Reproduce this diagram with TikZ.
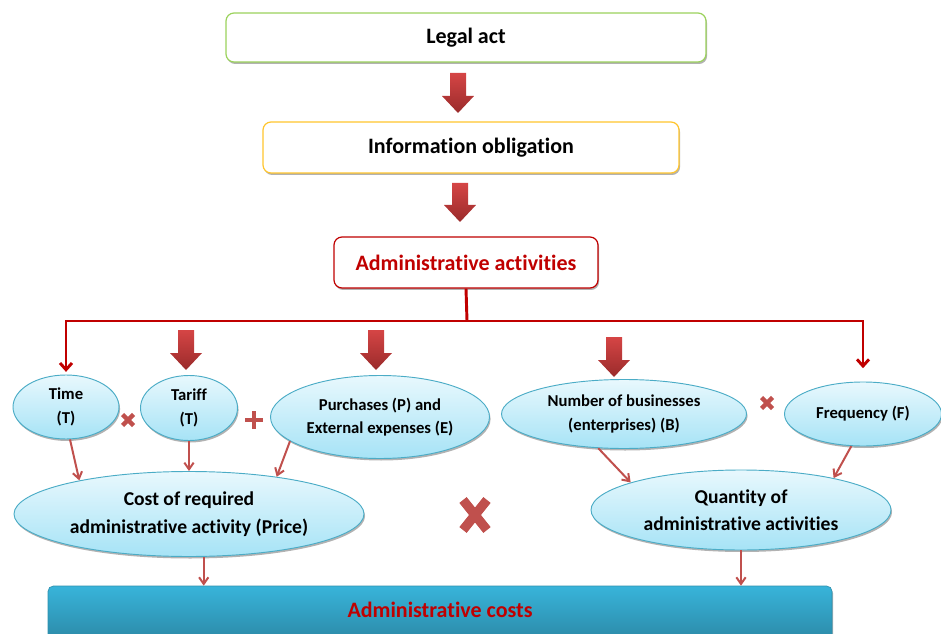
\documentclass[tikz,border=0pt]{standalone}
\usepackage{fontspec}
\setmainfont{Carlito}[Ligatures={NoCommon,NoRare,NoDiscretionary}]
\usetikzlibrary{arrows.meta,shadows,shapes.geometric}
\definecolor{legalgreen}{HTML}{9BD25C}
\definecolor{infogold}{HTML}{FFC52E}
\definecolor{darkred}{HTML}{C00000}
\definecolor{brickred}{HTML}{C0504D}
\definecolor{ellborder}{HTML}{4BACC6}
\definecolor{elltop}{HTML}{E8F8FD}
\definecolor{ellbot}{HTML}{A6E3F6}
\definecolor{arrtop}{HTML}{D54545}
\definecolor{arrbot}{HTML}{9A2B2B}
\definecolor{costtop}{HTML}{38B4DA}
\definecolor{costbot}{HTML}{2C8AA8}
\newcommand\bigdownarrow[3]{%
  \shade[top color=arrtop,bottom color=arrbot]
    (#1-8,#2) -- (#1+8,#2) -- (#1+8,#3-17) -- (#1+16,#3-17) -- (#1,#3)
    -- (#1-16,#3-17) -- (#1-8,#3-17) -- cycle;}
\newcommand\timesmark[5]{% x y halfwidth halfheight linewidth
  \draw[brickred,line width=#5] (#1-#3,#2-#4) -- (#1+#3,#2+#4) (#1-#3,#2+#4) -- (#1+#3,#2-#4);}
\begin{document}
\begin{tikzpicture}[x=0.75pt,y=-0.75pt,
  softshadow/.style={drop shadow={shadow xshift=0.8pt,shadow yshift=-1.5pt,fill=black,opacity=0.3}},
  topbox/.style={draw,rounded corners=6pt,fill=white,line width=0.9pt,softshadow,
    font=\fontsize{16.5}{19}\selectfont\bfseries},
  oval/.style={ellipse,draw=ellborder,line width=0.7pt,top color=elltop,bottom color=ellbot,
    inner sep=0pt,align=center,softshadow},
  smalltext/.style={font=\fontsize{12.5}{17.5}\selectfont\bfseries},
  bigtext/.style={font=\fontsize{14.7}{20.5}\selectfont\bfseries},
  redline/.style={draw=darkred,line width=2.2pt},
  redarrow/.style={redline,-{Straight Barb[length=5pt,width=9pt]}},
  thinarrow/.style={draw=brickred,line width=1.5pt,-{Straight Barb[length=5pt,width=7pt]}}]
\useasboundingbox (0,0) rectangle (941,634);
\clip (0,0) rectangle (941,634);

% top boxes
\node[topbox,draw=legalgreen,minimum width=360pt,minimum height=36.75pt] (legal) at (466,37.5) {Legal act};
\node[topbox,draw=infogold,minimum width=312pt,minimum height=38.25pt] (info) at (471,147.5) {Information obligation};
\node[topbox,draw=darkred,text=darkred,minimum width=198pt,minimum height=38.25pt] (admact) at (466,262.5) {Administrative activities};

\bigdownarrow{458}{73}{113}
\bigdownarrow{460}{183}{222}

% ellipses
\node[oval,smalltext,minimum width=79.5pt,minimum height=48pt] (time) at (66,407) {\raisebox{-3pt}{Time}\\\raisebox{-3pt}{(T)}};
\node[oval,smalltext,minimum width=72.75pt,minimum height=48.75pt] (tariff) at (189,408) {\raisebox{-3pt}{Tariff}\\\raisebox{-3pt}{(T)}};
\node[oval,smalltext,minimum width=164.25pt,minimum height=62.25pt] (purch) at (380,417) {Purchases (P) and\\External expenses (E)};
\node[oval,smalltext,minimum width=183.75pt,minimum height=51.75pt] (number) at (624,414) {Number of businesses\\(enterprises) (B)};
\node[oval,smalltext,minimum width=117.75pt,minimum height=48pt] (freq) at (863,414) {Frequency (F)};
\node[oval,bigtext,minimum width=262.5pt,minimum height=63.75pt] (cost) at (189,514) {Cost of required\\administrative activity (Price)};
\node[oval,bigtext,minimum width=225pt,minimum height=60pt] (quantity) at (741,510) {Quantity of\\administrative activities};

% bottom bar
\node[draw=costtop!80!black,line width=0.5pt,rounded corners=4pt,top color=costtop,bottom color=costbot,
  minimum width=588pt,minimum height=40.5pt,text=darkred,font=\fontsize{16.5}{19}\selectfont\bfseries,softshadow]
  (costs) at (440,613) {\raisebox{4.5pt}{Administrative costs}};

% red distribution connector
\coordinate (split) at (467,321);
\draw[redline] (admact.south) -- (split);
\draw[redarrow,shorten >=2pt] (split) -| (time.north);
\draw[redarrow,shorten >=10pt] (split) -| (freq.north);

% block arrows into ellipses
\bigdownarrow{186}{330}{370}
\bigdownarrow{376}{330}{370}
\bigdownarrow{614}{337}{377}

% operators
\timesmark{128}{420}{5.5}{5.5}{3.2pt}
\draw[brickred,line width=3.6pt] (245,420) -- (263,420) (254,411) -- (254,429);
\timesmark{767}{403}{5.5}{5.5}{3.2pt}
\timesmark{475}{515}{12}{15}{7pt}

% thin arrows
\draw[thinarrow] (time.-83) -- (cost.163);
\draw[thinarrow] (tariff.south) -- (cost.north);
\draw[thinarrow] (purch.195) -- (cost.23);
\draw[thinarrow] (number.233) -- (quantity.166);
\draw[thinarrow] (freq.250) -- (quantity.19);
\draw[thinarrow] (cost.-71) -- (cost.-71 |- costs.north);
\draw[thinarrow] (quantity.south) -- (quantity.south |- costs.north);
\end{tikzpicture}
\end{document}
